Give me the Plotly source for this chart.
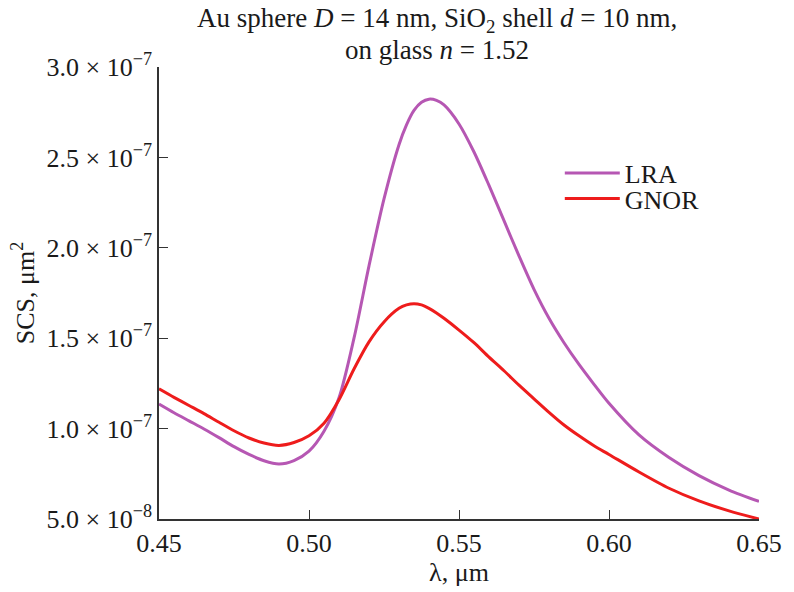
import numpy as np
import plotly.graph_objects as go

# Wavelength grid (µm)
wavelength = [0.450, 0.455, 0.460, 0.465, 0.470, 0.475, 0.480, 0.485, 0.490, 0.495,
              0.500, 0.505, 0.510, 0.515, 0.520, 0.525, 0.530, 0.5325, 0.535, 0.5375,
              0.540, 0.5425, 0.545, 0.550, 0.555, 0.560, 0.565, 0.570, 0.575, 0.580,
              0.585, 0.590, 0.595, 0.600, 0.610, 0.620, 0.630, 0.640, 0.650]

# Scattering cross sections, in units of 1e-7 µm^2
scs_lra = [1.136, 1.088, 1.043, 0.998, 0.950, 0.900, 0.857, 0.822, 0.804, 0.823,
           0.875, 0.985, 1.170, 1.500, 1.900, 2.270, 2.570, 2.680, 2.760, 2.805,
           2.822, 2.815, 2.790, 2.685, 2.530, 2.345, 2.150, 1.955, 1.770, 1.610,
           1.475, 1.355, 1.245, 1.140, 0.965, 0.840, 0.740, 0.660, 0.597]

scs_gnor = [1.220, 1.173, 1.128, 1.083, 1.035, 0.988, 0.948, 0.920, 0.907, 0.923,
            0.960, 1.030, 1.160, 1.330, 1.480, 1.590, 1.665, 1.684, 1.691, 1.684,
            1.665, 1.640, 1.610, 1.545, 1.475, 1.395, 1.320, 1.240, 1.165, 1.090,
            1.020, 0.960, 0.905, 0.857, 0.760, 0.670, 0.600, 0.545, 0.500]

y_tick_vals = [5.0e-8, 1.0e-7, 1.5e-7, 2.0e-7, 2.5e-7, 3.0e-7]
y_tick_text = ["5.0 × 10<sup>−8</sup>", "1.0 × 10<sup>−7</sup>", "1.5 × 10<sup>−7</sup>",
               "2.0 × 10<sup>−7</sup>", "2.5 × 10<sup>−7</sup>", "3.0 × 10<sup>−7</sup>"]
x_tick_vals = [0.45, 0.50, 0.55, 0.60, 0.65]

title_lines = ["Au sphere <i>D</i> = 14 nm, SiO<sub>2</sub> shell <i>d</i> = 10 nm,",
               "on glass <i>n</i> = 1.52"]

FONT = "Liberation Serif"
FS = 26
TEXT_COLOR = "#1a1a1a"
AXIS_COLOR = "#333333"

fig = go.Figure()
fig.add_trace(go.Scatter(
    x=wavelength, y=np.array(scs_lra) * 1e-7, mode="lines", name="LRA",
    line=dict(color="#b657b3", width=3, shape="spline", smoothing=0.8),
    legend="legend",
))
fig.add_trace(go.Scatter(
    x=wavelength, y=np.array(scs_gnor) * 1e-7, mode="lines", name="GNOR",
    line=dict(color="#ee1c1c", width=3, shape="spline", smoothing=0.8),
    legend="legend2",
))

legend_style = dict(
    xanchor="left", yanchor="middle", bgcolor="rgba(0,0,0,0)",
    font=dict(family=FONT, size=FS, color=TEXT_COLOR), itemwidth=55,
)

fig.update_layout(
    width=794, height=592,
    margin=dict(l=159, r=26, t=67, b=70),
    paper_bgcolor="white", plot_bgcolor="white",
    font=dict(family=FONT, size=FS, color=TEXT_COLOR),
    showlegend=True,
    legend=dict(x=0.668, y=0.765, **legend_style),
    legend2=dict(x=0.668, y=0.709, **legend_style),
)

# Two-line heading above the plot area
for text, ypos in zip(title_lines, [1.105, 1.037]):
    fig.add_annotation(
        text=text, xref="paper", yref="paper", x=(441 - 159) / 609, y=ypos,
        xanchor="center", yanchor="middle", showarrow=False,
        font=dict(family=FONT, size=27, color=TEXT_COLOR),
    )

fig.update_xaxes(
    range=[0.45, 0.65], tickvals=x_tick_vals, tickformat=".2f",
    ticks="inside", ticklen=9, tickwidth=1.3, tickcolor=AXIS_COLOR,
    showline=True, linecolor=AXIS_COLOR, linewidth=1.5,
    showgrid=False, zeroline=False, mirror=False,
    tickfont=dict(family=FONT, size=FS),
    title=dict(text="λ, μm", font=dict(family=FONT, size=FS), standoff=4),
)
fig.update_yaxes(
    range=[5.0e-8, 3.0e-7], tickvals=y_tick_vals, ticktext=y_tick_text,
    ticks="inside", ticklen=9, tickwidth=1.3, tickcolor=AXIS_COLOR,
    showline=True, linecolor=AXIS_COLOR, linewidth=1.5,
    showgrid=False, zeroline=False, mirror=False,
    tickfont=dict(family=FONT, size=FS),
    title=dict(text="SCS, μm<sup>2</sup>", font=dict(family=FONT, size=FS), standoff=4),
)

fig.write_html("out.html")
